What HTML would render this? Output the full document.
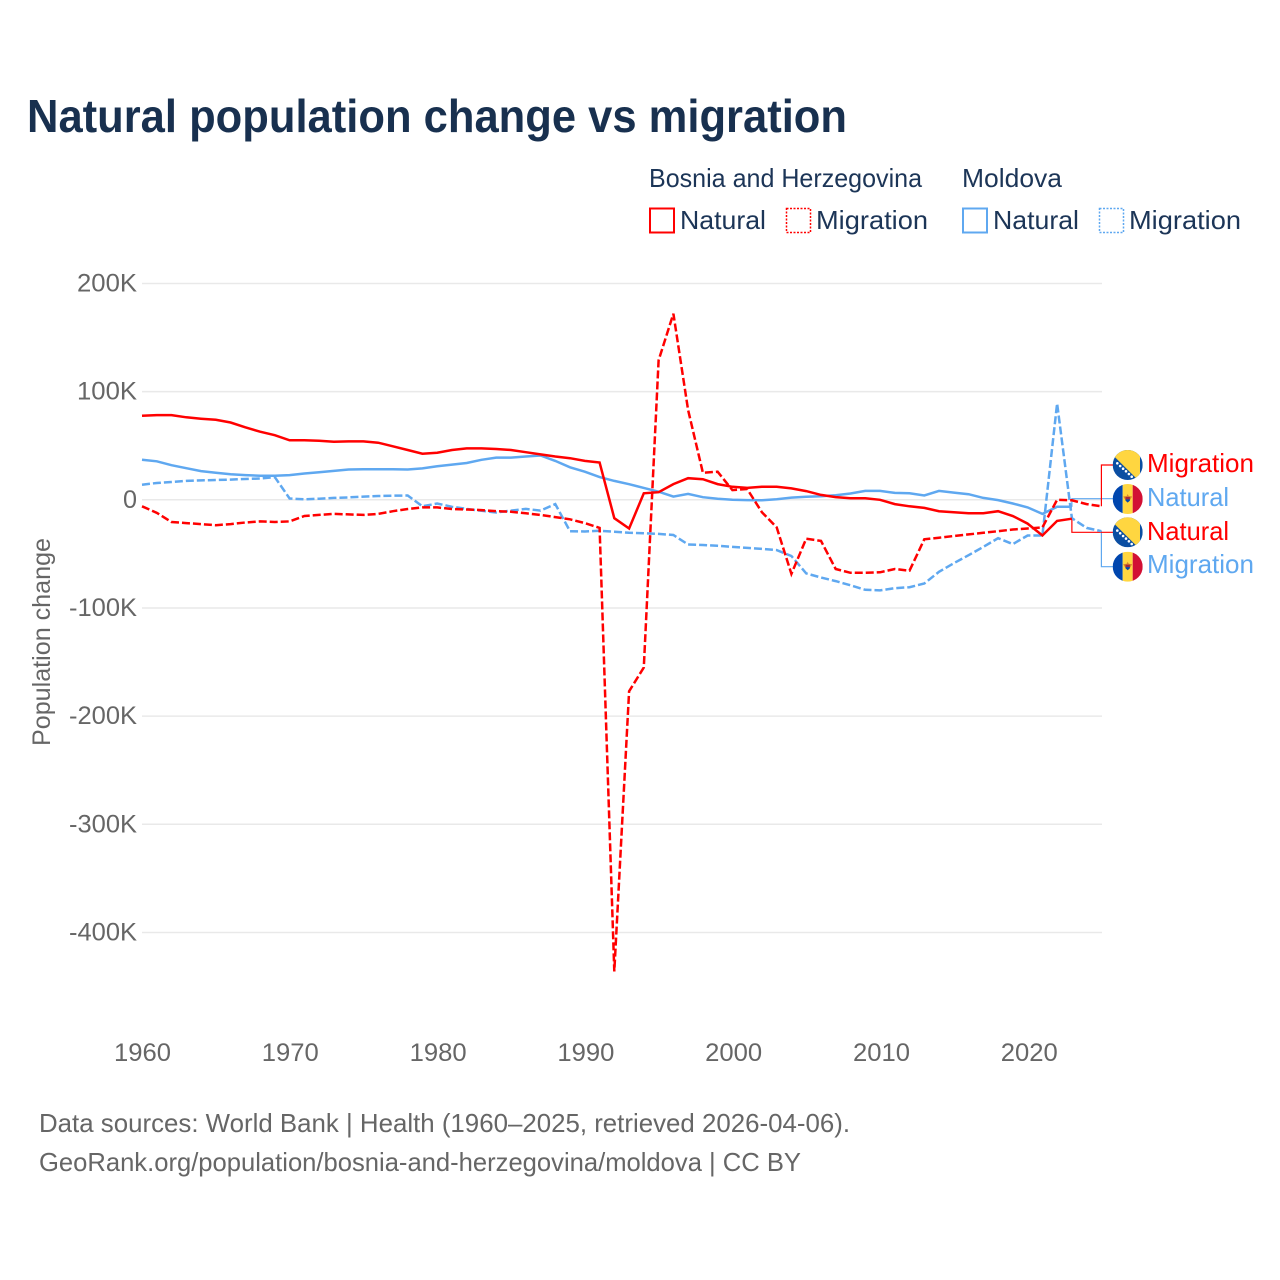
<!DOCTYPE html>
<html lang="en">
<head>
<meta charset="utf-8">
<title>Natural population change vs migration</title>
<style>
html,body{margin:0;padding:0;background:#fff;width:1280px;height:1280px;overflow:hidden}
svg{display:block}
text{font-family:"Liberation Sans",sans-serif}
</style>
</head>
<body>
<svg id="chart" xmlns="http://www.w3.org/2000/svg" width="1280" height="1280" viewBox="0 0 1280 1280">
  <defs>
    <clipPath id="flag-clip"><circle cx="0" cy="0" r="15"/></clipPath>
    <g id="flag-bih">
      <g clip-path="url(#flag-clip)">
        <rect x="-15" y="-15" width="30" height="30" fill="#0b4ea2"/>
        <polygon points="-20,-15 12.3,-15 12.3,17" fill="#ffd640"/>
        <g fill="#fff">
          <circle cx="-10.4" cy="-1.7" r="1.3"/><circle cx="-7.5" cy="1" r="1.3"/><circle cx="-4.6" cy="3.7" r="1.3"/>
          <circle cx="-1.7" cy="6.3" r="1.3"/><circle cx="1.2" cy="9" r="1.3"/><circle cx="4" cy="11.7" r="1.3"/>
        </g>
      </g>
    </g>
    <g id="flag-mda">
      <g clip-path="url(#flag-clip)">
        <rect x="-15" y="-15" width="10" height="30" fill="#0046ae"/>
        <rect x="-5" y="-15" width="10" height="30" fill="#ffd640"/>
        <rect x="5" y="-15" width="10" height="30" fill="#d21034"/>
        <polygon points="-4.5,-2.5 -1,-3 0,-5 1,-3 4.5,-2.5 2,1.5 -2,1.5" fill="#d9822b"/>
        <rect x="-2.2" y="-2" width="4.4" height="2.4" fill="#a3283c"/>
        <polygon points="-2.2,0.4 2.2,0.4 2.2,1.6 0,3.6 -2.2,1.6" fill="#0046ae"/>
      </g>
    </g>
  </defs>

  <text x="27" y="132" font-size="46" font-weight="700" fill="#18304f" textLength="820" lengthAdjust="spacingAndGlyphs">Natural population change vs migration</text>

  <g font-size="26" fill="#1c3557">
    <text x="649" y="187" textLength="273" lengthAdjust="spacingAndGlyphs">Bosnia and Herzegovina</text>
    <text x="962" y="187" textLength="100" lengthAdjust="spacingAndGlyphs">Moldova</text>
    <rect x="650" y="208.5" width="24" height="24" fill="none" stroke="#ff0000" stroke-width="2"/>
    <text x="680" y="229" textLength="86" lengthAdjust="spacingAndGlyphs">Natural</text>
    <rect x="786.5" y="208.5" width="24" height="24" fill="none" stroke="#ff0000" stroke-width="1.5" stroke-dasharray="2 1.5"/>
    <text x="816" y="229" textLength="112" lengthAdjust="spacingAndGlyphs">Migration</text>
    <rect x="963" y="208.5" width="24" height="24" fill="none" stroke="#5fa8f0" stroke-width="2"/>
    <text x="993" y="229" textLength="86" lengthAdjust="spacingAndGlyphs">Natural</text>
    <rect x="1099.5" y="208.5" width="24" height="24" fill="none" stroke="#5fa8f0" stroke-width="1.5" stroke-dasharray="2 1.5"/>
    <text x="1129" y="229" textLength="112" lengthAdjust="spacingAndGlyphs">Migration</text>
  </g>

  <g id="grid"></g>
  <g id="y-ticks"></g>
  <g id="x-ticks"></g>
  <text transform="translate(50,746) rotate(-90)" font-size="25" fill="#666666" textLength="208" lengthAdjust="spacingAndGlyphs">Population change</text>

  <g id="leaders"></g>
  <g id="series"></g>

  <g font-size="26">
    <use href="#flag-bih" x="1127.7" y="465"/>
    <text x="1147" y="472" fill="#ff0000" textLength="107" lengthAdjust="spacingAndGlyphs">Migration</text>
    <use href="#flag-mda" x="1127.7" y="499"/>
    <text x="1147" y="506" fill="#5fa8f0" textLength="82" lengthAdjust="spacingAndGlyphs">Natural</text>
    <use href="#flag-bih" x="1127.7" y="532.3"/>
    <text x="1147" y="540" fill="#ff0000" textLength="82" lengthAdjust="spacingAndGlyphs">Natural</text>
    <use href="#flag-mda" x="1127.7" y="566.7"/>
    <text x="1147" y="573" fill="#5fa8f0" textLength="107" lengthAdjust="spacingAndGlyphs">Migration</text>
  </g>

  <g font-size="26" fill="#666666">
    <text x="39" y="1132" textLength="811" lengthAdjust="spacingAndGlyphs">Data sources: World Bank | Health (1960–2025, retrieved 2026-04-06).</text>
    <text x="39" y="1171" textLength="762" lengthAdjust="spacingAndGlyphs">GeoRank.org/population/bosnia-and-herzegovina/moldova | CC BY</text>
  </g>
</svg>

<script>
const startYear = 1960;
const yTickValues = [200, 100, 0, -100, -200, -300, -400];
const yTickLabels = ['200K', '100K', '0', '-100K', '-200K', '-300K', '-400K'];
const xTickYears = [1960, 1970, 1980, 1990, 2000, 2010, 2020];

const bosniaNatural = [77.7, 78.3, 78.3, 76.3, 75, 74, 71.5, 67, 63, 59.7, 55, 55, 54.6, 53.7, 54, 54, 52.8, 49.5, 46, 42.6, 43.5, 46, 47.5, 47.5, 47, 46, 44, 42, 40, 38.5, 36, 34.5, -17, -26.5, 6, 7, 14.5, 20, 19, 14.5, 12, 11, 12, 12, 10.5, 8, 4.5, 2.5, 1.5, 1.5, 0, -4, -6, -7.5, -10.5, -11.5, -12.5, -12.5, -10.5, -15, -22, -33, -19.5, -17.5];
const bosniaMigration = [-6, -12, -20.5, -21.5, -22.5, -23.5, -22.5, -21, -20, -20.5, -20, -15, -14, -13, -13.5, -14, -13, -10.5, -8.5, -7, -7, -8.5, -9, -9.5, -10.5, -11, -12.5, -14, -16, -18, -21.5, -26, -436, -177, -155, 129, 172, 83, 25, 26, 9, 10, -11.5, -25.5, -68.5, -36, -38, -64, -67.5, -67.5, -67, -64, -65.5, -36.5, -35, -33.5, -32, -30.5, -29, -27.5, -26.5, -25.5, 0, -0.5, -4, -6];
const moldovaNatural = [37, 35.6, 32, 29.2, 26.5, 25, 23.7, 22.8, 22.2, 22.2, 22.8, 24.3, 25.5, 26.7, 28, 28.3, 28.3, 28.3, 28, 29, 31, 32.5, 34, 37, 39, 39, 40, 41, 36, 30, 26, 21, 17.5, 14.4, 11, 7.5, 3, 5.5, 2.4, 1, 0, -0.3, -0.4, 0.5, 2, 2.8, 3.3, 4.2, 5.8, 8.2, 8.2, 6.4, 6, 4, 8.2, 6.7, 5.2, 1.8, -0.3, -3.4, -7, -13, -6.5, -6.5];
const moldovaMigration = [14, 15.5, 16.5, 17.5, 17.9, 18.3, 18.7, 19.2, 19.7, 21, 1.2, 0.5, 1, 1.8, 2.2, 3, 3.5, 3.8, 4, -6, -3.4, -6.5, -8.4, -10.2, -11.7, -10, -8.4, -10, -4, -29, -29.3, -28.7, -29.5, -30.5, -31, -31.5, -32.5, -41.3, -41.8, -42.5, -43.5, -44.5, -45.4, -46.5, -52, -68, -71.8, -75.2, -79, -83.2, -83.8, -81.7, -80.8, -77.4, -66.6, -58.6, -51.2, -43.5, -35.5, -41, -33, -33, 89, -17, -26, -29];

const NS = 'http://www.w3.org/2000/svg';
const xScale = function (year) { return 142 + (year - startYear) * 14.76; };
const xLabelScale = function (year) { return 142.5 + (year - startYear) * 14.78; };
const yScale = function (v) { return 499.8 - v * 1.0817; };

function svgEl(tag, attrs) {
  const el = document.createElementNS(NS, tag);
  Object.keys(attrs).forEach(function (k) { el.setAttribute(k, attrs[k]); });
  return el;
}
function linePoints(values) {
  return values.map(function (v, i) { return xScale(startYear + i).toFixed(1) + ',' + yScale(v).toFixed(1); }).join(' ');
}

const gridG = document.getElementById('grid');
const yG = document.getElementById('y-ticks');
yTickValues.forEach(function (v, i) {
  const gl = svgEl('line', { x1: 142, x2: 1102, y1: yScale(v), y2: yScale(v), stroke: '#e9e9e9', 'stroke-width': 1.5 });
  
  
  gridG.appendChild(gl);
  const label = yTickLabels[i];
  const width = label.length === 1 ? 14 : (label.length === 4 ? 60 : 68);
  const t = svgEl('text', { x: 137 - width, y: yScale(v) + 8, 'font-size': 25, fill: '#666666', textLength: width, lengthAdjust: 'spacingAndGlyphs' });
  
  
  t.textContent = label;
  yG.appendChild(t);
});

const xG = document.getElementById('x-ticks');
xTickYears.forEach(function (yr) {
  const t = svgEl('text', { x: xLabelScale(yr) - 28.5, y: 1061, 'font-size': 25, fill: '#666666', textLength: 57, lengthAdjust: 'spacingAndGlyphs' });
  
  
  t.textContent = String(yr);
  xG.appendChild(t);
});

const seriesG = document.getElementById('series');
const leadersG = document.getElementById('leaders');

function drawSeries(values, color, dashed, seriesName, labelY) {
  const lastIndex = values.length - 1;
  const lx = xScale(startYear + lastIndex);
  const ly = yScale(values[lastIndex]);
  const leader = svgEl('polyline', {
    points: lx + ',' + ly + ' ' + lx + ',' + labelY + ' 1113,' + labelY,
    fill: 'none', stroke: color, 'stroke-width': 1.2
  });
  
  
  leadersG.appendChild(leader);

  const attrs = { points: linePoints(values), fill: 'none', stroke: color, 'stroke-width': 2.5, 'stroke-linejoin': 'miter' };
  if (dashed) { attrs['stroke-dasharray'] = '8 3'; }
  const line = svgEl('polyline', attrs);
  
  
  seriesG.appendChild(line);
}

drawSeries(moldovaMigration, '#5fa8f0', true, 'line-moldova-migration', 566.7);
drawSeries(moldovaNatural, '#5fa8f0', false, 'line-moldova-natural', 498.7);
drawSeries(bosniaMigration, '#ff0000', true, 'line-bosnia-migration', 465);
drawSeries(bosniaNatural, '#ff0000', false, 'line-bosnia-natural', 532.3);
</script>
</body>
</html>
